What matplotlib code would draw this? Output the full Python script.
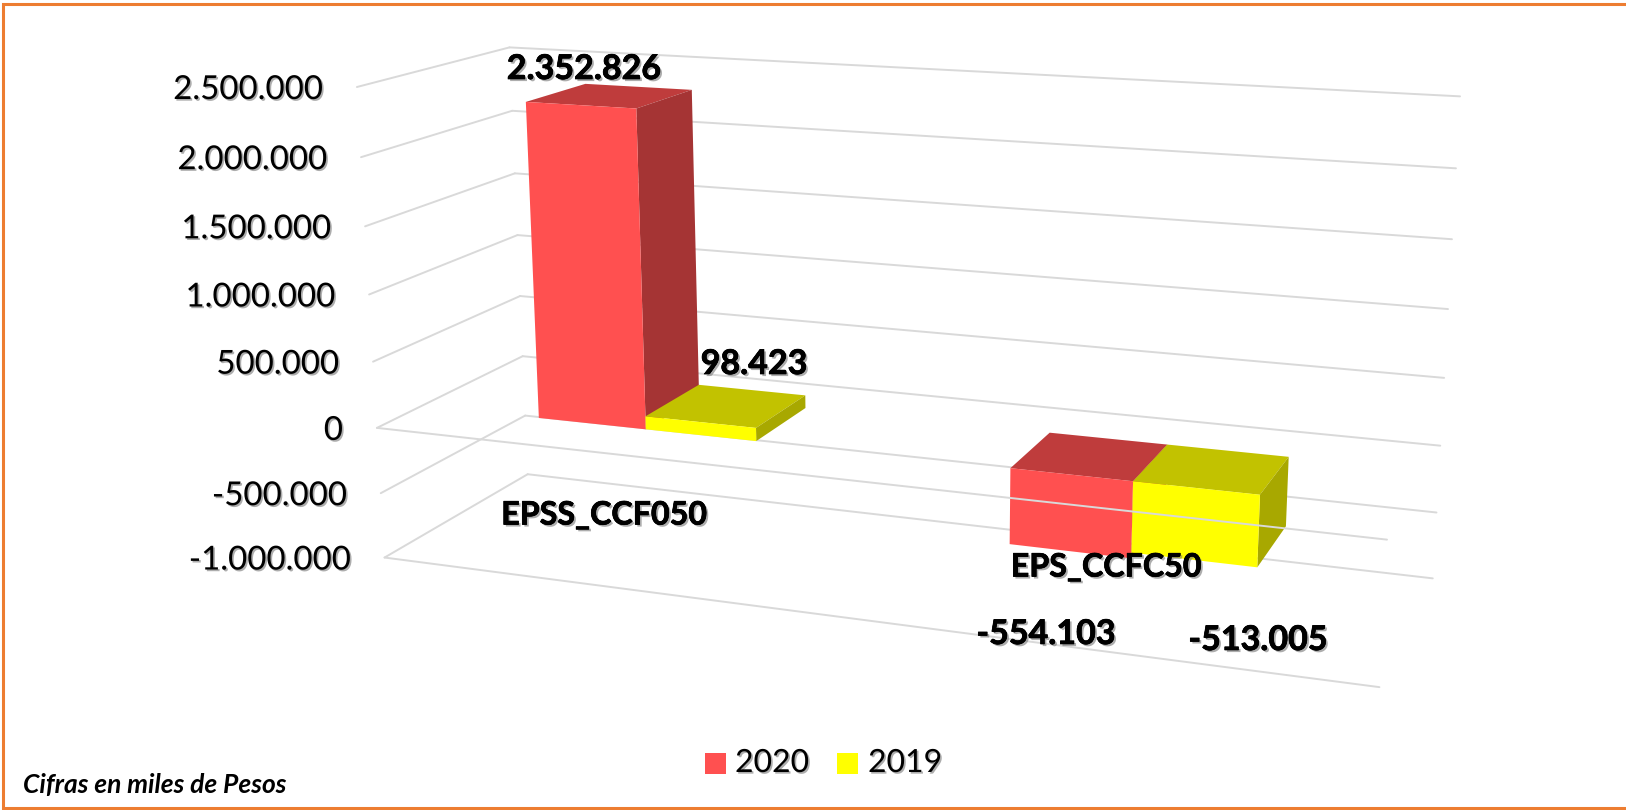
import numpy as np
import matplotlib
matplotlib.use("Agg")
import matplotlib.pyplot as plt
import matplotlib.patheffects as pe
from matplotlib.patches import Polygon, Rectangle

# ===== DATA =====
categories = ['EPSS_CCF050', 'EPS_CCFC50']
series_names = ['2020', '2019']
values_2020 = [2352826, -554103]
values_2019 = [98423, -513005]
value_labels_2020 = ['2.352.826', '-554.103']
value_labels_2019 = ['98.423', '-513.005']
tick_values = [2500000, 2000000, 1500000, 1000000, 500000, 0, -500000, -1000000]
tick_labels = ['2.500.000', '2.000.000', '1.500.000', '1.000.000', '500.000', '0', '-500.000', '-1.000.000']

# ===== LOOK =====
W, H = 1626, 810
RED = ('#FF5050', '#BF3C3C', '#A53434')      # front, top, side
YELLOW = ('#FFFF00', '#C2C200', '#A8A800')
GRID = '#D9D9D9'
BORDER = '#ED7D31'
FONT = 'Lato'

# ===== FAKE 3D PROJECTION =====
# Frame corners of the 3D box as seen on the picture: pixel position of
# (across 0-1, depth 0-1, value in millions). A projective camera is fitted on them.
front_left = [(358, 87), (361, 157), (365, 227), (369, 295), (373, 362), (377, 428), (380, 493), (384, 557)]
back_left = [(508, 47), (512, 111), (515, 173), (518, 235), (521, 296), (523, 356), (525, 416), (528, 474)]
back_right = [(1459, 97), (1455, 168), (1452, 238), (1449, 309), (1446, 378), (1441, 446), (1436, 513), (1431, 579)]
front_right = {0: (1388, 540), -1000000: (1379, 686)}

world, pixels = [], []
for i, v in enumerate(tick_values):
    world += [(0, 0, v / 1e6), (0, 1, v / 1e6), (1, 1, v / 1e6)]
    pixels += [front_left[i], back_left[i], back_right[i]]
for v, p in front_right.items():
    world.append((1, 0, v / 1e6))
    pixels.append(p)

A, b = [], []
for (X, Y, Z), (px, py) in zip(world, pixels):
    A.append([X, Y, Z, 1, 0, 0, 0, 0, -px * X, -px * Y, -px * Z])
    A.append([0, 0, 0, 0, X, Y, Z, 1, -py * X, -py * Y, -py * Z])
    b += [px, py]
cam = np.linalg.lstsq(np.array(A, float), np.array(b, float), rcond=None)[0]
cam = np.append(cam, 1.0).reshape(3, 4)


def project(u, d, value):
    q = cam @ np.array([u, d, value / 1e6, 1.0])
    return q[0] / q[2], q[1] / q[2]


# ===== FIGURE =====
fig = plt.figure(figsize=(W / 100, H / 100), dpi=100)
ax = fig.add_axes([0, 0, 1, 1])
ax.set_xlim(0, W)
ax.set_ylim(H, 0)
ax.axis('off')
shadow = [pe.withSimplePatchShadow(offset=(1.2, -1.2), shadow_rgbFace='#777777', alpha=0.6)]
shadow_bold = [pe.withSimplePatchShadow(offset=(1.5, -1.5), shadow_rgbFace='#777777', alpha=0.6),
               pe.Stroke(linewidth=0.5, foreground='black'), pe.Normal()]


def seg(p, q, z=1):
    ax.plot([p[0], q[0]], [p[1], q[1]], color=GRID, lw=1.4, zorder=z, solid_capstyle='round')


# walls and floors
for v, lab in zip(tick_values, tick_labels):
    seg(project(0, 0, v), project(0, 1, v))
    seg(project(0, 1, v), project(1, 1, v))
    x, y = project(0, 0, v)
    ax.text(x - 34, y + 3, lab, ha='right', va='center', fontsize=23.8, family=FONT,
            color='black', path_effects=shadow, zorder=8)
seg(project(0, 0, -1000000), project(1, 0, -1000000))
seg(project(0, 0, 0), project(1, 0, 0), z=6)  # this one runs over the negative bars


# ===== BARS =====
bar_starts = [0.134, 0.632]
bar_width = 0.119
depth_front, depth_back = 0.29, 0.71


def draw_bar(u0, value, colors, z):
    u1 = u0 + bar_width
    low, high = min(value, 0), max(value, 0)
    front = [project(u0, depth_front, low), project(u1, depth_front, low),
             project(u1, depth_front, high), project(u0, depth_front, high)]
    top = [project(u0, depth_front, high), project(u1, depth_front, high),
           project(u1, depth_back, high), project(u0, depth_back, high)]
    side = [project(u1, depth_front, low), project(u1, depth_back, low),
            project(u1, depth_back, high), project(u1, depth_front, high)]
    ax.add_patch(Polygon(top, fc=colors[1], ec='none', zorder=z))
    ax.add_patch(Polygon(side, fc=colors[2], ec='none', zorder=z))
    ax.add_patch(Polygon(front, fc=colors[0], ec='none', zorder=z))


for i in range(len(categories)):
    draw_bar(bar_starts[i], values_2020[i], RED, 3 + i * 0.1)
    draw_bar(bar_starts[i] + bar_width, values_2019[i], YELLOW, 3.05 + i * 0.1)

# ===== TEXT =====
label_pos_2020 = [(584, 69), (1046, 634)]
label_pos_2019 = [(754, 364), (1258, 640)]
category_pos = [(604, 515), (1106, 567)]
for i in range(len(categories)):
    ax.text(*label_pos_2020[i], value_labels_2020[i], ha='center', va='center', fontsize=24.5,
            family=FONT, weight='bold', path_effects=shadow_bold, zorder=8)
    ax.text(*label_pos_2019[i], value_labels_2019[i], ha='center', va='center', fontsize=24.5,
            family=FONT, weight='bold', path_effects=shadow_bold, zorder=8)
    ax.text(*category_pos[i], categories[i], ha='center', va='center', fontsize=23.2,
            family=FONT, weight='bold', path_effects=shadow_bold, zorder=8)

# legend
legend_swatch_x = [705, 837]
legend_text_x = [735, 868]
for x, tx, name, c in zip(legend_swatch_x, legend_text_x, series_names, [RED[0], YELLOW[0]]):
    ax.add_patch(Rectangle((x, 753), 21, 21, fc=c, ec='none', zorder=8))
    ax.text(tx, 763, name, ha='left', va='center', fontsize=23, family=FONT,
            path_effects=shadow, zorder=8)

ax.text(23, 785, 'Cifras en miles de Pesos', ha='left', va='center', fontsize=19, family=FONT,
        style='italic', weight='bold', zorder=8)

# outer frame, the reference has no line on the right side
ax.plot([W, 3, 3, W], [4, 4, 808, 808], color=BORDER, lw=2.2, zorder=9, solid_joinstyle='miter')

fig.savefig('out.png', dpi=100)
